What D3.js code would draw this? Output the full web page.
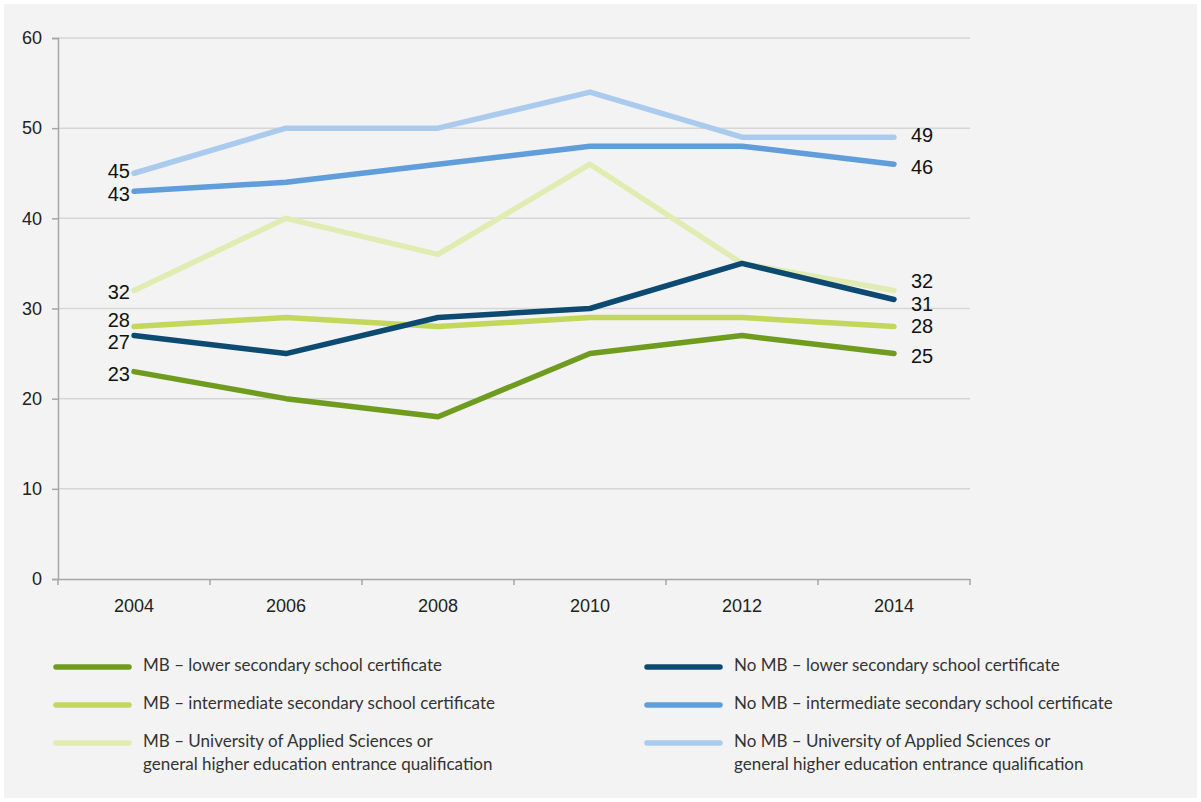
<!DOCTYPE html>
<html><head><meta charset="utf-8">
<script src="https://cdn.jsdelivr.net/npm/d3@7"></script>
<style>
html,body{margin:0;padding:0;background:#fff;}
svg{display:block;}
</style></head>
<body>
<svg id="chart" width="1201" height="802"></svg>
<script>
const years = ["2004","2006","2008","2010","2012","2014"];
const yTicks = [0,10,20,30,40,50,60];
const seriesNames = [
  "MB – lower secondary school certificate",
  "MB – intermediate secondary school certificate",
  "MB – University of Applied Sciences or|general higher education entrance qualification",
  "No MB – lower secondary school certificate",
  "No MB – intermediate secondary school certificate",
  "No MB – University of Applied Sciences or|general higher education entrance qualification"
];
const mbLower = [23,20,18,25,27,25];
const mbInter = [28,29,28,29,29,28];
const mbUni   = [32,40,36,46,35,32];
const noLower = [27,25,29,30,35,31];
const noInter = [43,44,46,48,48,46];
const noUni   = [45,50,50,54,49,49];
const colors = ["#6f9c1f","#c3d75b","#e1ecb2","#0d4a72","#5f9ddb","#aacbee"];

const seriesValues = [mbLower, mbInter, mbUni, noLower, noInter, noUni];
// small vertical nudges for end labels to avoid overlaps [left, right]
const labelNudge = [[4,4],[-5,1],[3,-8],[8,6],[4,4],[-1,0]];

const svg = d3.select("#chart");
svg.append("rect").attr("x",4).attr("y",4).attr("width",1193).attr("height",794).attr("fill","#f3f3f3");

const x = d3.scaleBand().domain(years).range([58,970]);
const y = d3.scaleLinear().domain([0,60]).range([579,38]);

// grid
svg.append("g").selectAll("line").data(yTicks.filter(d=>d>0)).join("line")
  .attr("x1",58).attr("x2",970).attr("y1",d=>y(d)).attr("y2",d=>y(d))
  .attr("stroke","#d6d6d6").attr("stroke-width",1.5);

// y axis
const ya = svg.append("g").attr("transform","translate(58,0)")
  .call(d3.axisLeft(y).tickValues(yTicks).tickSize(6).tickPadding(10));
ya.select(".domain").attr("stroke","#a6a6a6").attr("stroke-width",1.5);
ya.selectAll(".tick line").attr("stroke","#a6a6a6").attr("stroke-width",1.5);
ya.selectAll("text").attr("font-family","Liberation Sans, Arial, sans-serif").attr("font-size",18).attr("fill","#222");

// x axis
const xa = svg.append("g").attr("transform","translate(0,579)")
  .call(d3.axisBottom(x).tickSize(0).tickPadding(20));
xa.select(".domain").attr("stroke","#a6a6a6").attr("stroke-width",1.5);
xa.selectAll("text").attr("font-family","Liberation Sans, Arial, sans-serif").attr("font-size",18).attr("fill","#222");
// boundary ticks
const bounds = years.map(d=>x(d)).concat([x.range()[1]]);
svg.append("g").selectAll("line").data(bounds).join("line")
  .attr("x1",d=>d).attr("x2",d=>d).attr("y1",579).attr("y2",585)
  .attr("stroke","#a6a6a6").attr("stroke-width",1.5);

const cx = d => x(d) + x.bandwidth()/2;
const line = d3.line().x((v,i)=>cx(years[i])).y(v=>y(v));

const order = [2,5,4,1,0,3];
order.forEach(si=>{
  svg.append("path").datum(seriesValues[si]).attr("d",line)
    .attr("fill","none").attr("stroke",colors[si]).attr("stroke-width",5.5)
    .attr("stroke-linejoin","round").attr("stroke-linecap","round");
});

// end labels
seriesValues.forEach((vals,si)=>{
  svg.append("text").attr("x",cx(years[0])-4).attr("y",y(vals[0])+labelNudge[si][0])
    .attr("text-anchor","end").attr("dominant-baseline","middle")
    .attr("font-family","Liberation Sans, Arial, sans-serif").attr("font-size",20).attr("fill","#111")
    .text(vals[0]);
  const last = vals.length-1;
  svg.append("text").attr("x",cx(years[last])+17).attr("y",y(vals[last])+labelNudge[si][1])
    .attr("text-anchor","start").attr("dominant-baseline","middle")
    .attr("font-family","Liberation Sans, Arial, sans-serif").attr("font-size",20).attr("fill","#111")
    .text(vals[last]);
});

// legend
const legX = [56,647];
const legY = [667,705,743];
seriesNames.forEach((name,si)=>{
  const col = Math.floor(si/3), row = si%3;
  const g = svg.append("g");
  g.append("line").attr("x1",legX[col]).attr("x2",legX[col]+73)
    .attr("y1",legY[row]).attr("y2",legY[row])
    .attr("stroke",colors[si]).attr("stroke-width",5.5).attr("stroke-linecap","round");
  const parts = name.split("|");
  const tx = legX[col]+87;
  const t = g.append("text").attr("x",tx).attr("y",legY[row])
    .attr("font-family","Lato, sans-serif").attr("font-size",17).attr("fill","#333")
    .attr("dominant-baseline","middle");
  parts.forEach((p,k)=>{
    t.append("tspan").attr("x",tx).attr("dy",k===0?0:23).text(p);
  });
});
</script>
</body></html>
